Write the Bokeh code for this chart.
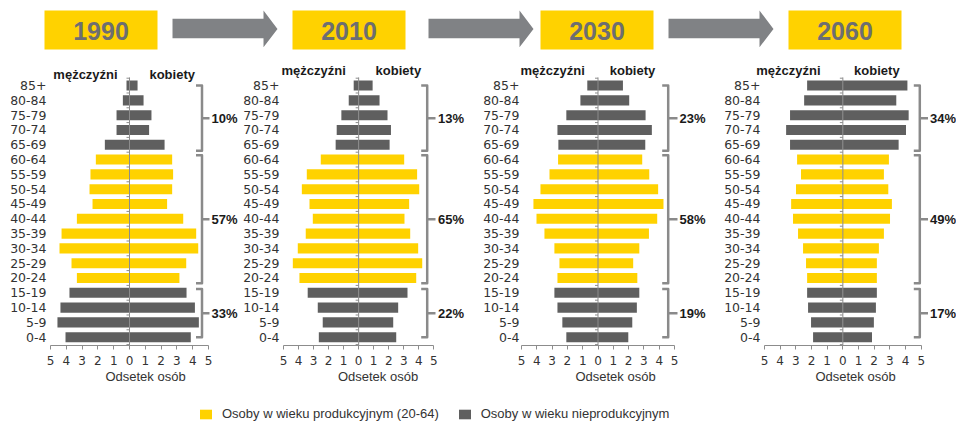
from bokeh.plotting import figure
from bokeh.models import Range1d, FixedTicker, ColumnDataSource, Legend, LegendItem, Label
from bokeh.layouts import column, row
from bokeh.embed import file_html
from bokeh.resources import INLINE
from bokeh.core.properties import value

# ---------------- data ----------------
categories = ["0-4", "5-9", "10-14", "15-19", "20-24", "25-29", "30-34", "35-39",
              "40-44", "45-49", "50-54", "55-59", "60-64", "65-69", "70-74",
              "75-79", "80-84", "85+"]
working_ages = ["20-24", "25-29", "30-34", "35-39", "40-44", "45-49", "50-54",
                "55-59", "60-64"]
years = ["1990", "2010", "2030", "2060"]

males_1990 = [4.05, 4.56, 4.37, 3.80, 3.33, 3.67, 4.43, 4.30, 3.33, 2.34, 2.53,
              2.47, 2.13, 1.56, 0.82, 0.82, 0.42, 0.19]
females_1990 = [3.88, 4.39, 4.14, 3.61, 3.16, 3.59, 4.35, 4.22, 3.40, 2.38, 2.70,
                2.76, 2.70, 2.22, 1.24, 1.39, 0.89, 0.51]
males_2010 = [2.65, 2.39, 2.72, 3.39, 3.94, 4.38, 4.05, 3.52, 3.05, 3.27, 3.78,
              3.45, 2.52, 1.53, 1.46, 1.15, 0.66, 0.33]
females_2010 = [2.50, 2.30, 2.63, 3.25, 3.83, 4.23, 3.96, 3.43, 3.05, 3.36, 4.03,
                3.89, 3.03, 2.06, 2.15, 1.92, 1.39, 0.93]
males_2030 = [2.07, 2.33, 2.65, 2.85, 2.65, 2.52, 2.85, 3.50, 4.02, 4.22, 3.76,
              3.17, 2.61, 2.59, 2.65, 2.07, 1.15, 0.70]
females_2030 = [1.98, 2.24, 2.54, 2.70, 2.57, 2.30, 2.70, 3.33, 3.87, 4.28, 3.93,
                3.35, 2.89, 3.09, 3.52, 3.11, 2.04, 1.63]
males_2060 = [1.90, 2.03, 2.22, 2.28, 2.28, 2.35, 2.54, 2.86, 3.18, 3.30, 2.99,
              2.67, 2.92, 3.37, 3.62, 3.37, 2.47, 2.28]
females_2060 = [1.86, 1.98, 2.11, 2.17, 2.17, 2.17, 2.30, 2.62, 3.01, 3.13, 2.90,
                2.62, 2.94, 3.56, 4.03, 4.20, 3.41, 4.12]

share_old = [10, 13, 23, 34]      # 65+
share_work = [57, 65, 58, 49]     # 20-64
share_young = [33, 22, 19, 17]    # 0-19

x_ticks = [-5, -4, -3, -2, -1, 0, 1, 2, 3, 4, 5]
side_labels = ["mężczyźni", "kobiety"]
axis_title = "Odsetek osób"
legend_labels = ["Osoby w wieku produkcyjnym (20-64)", "Osoby w wieku nieprodukcyjnym"]

males = [males_1990, males_2010, males_2030, males_2060]
females = [females_1990, females_2010, females_2030, females_2060]

# ---------------- style ----------------
YELLOW = "#FFD200"
GREY = "#5f5f5f"
LINE_GREY = "#8c8c8c"
BRACKET_GREY = "#8a8a8a"
TEXT = "#333333"
YEAR_GREY = "#6d6e71"
ARROW_GREY = "#808285"

Y_START, Y_END = -0.561, 18.56
bracket_spans = [(12.6, 17.0), (3.65, 12.3), (0.0, 3.25)]


def make_panel(k, fig_left, fig_right, frame_left, m5, p5, bracket_px, tick_px,
               label_px, men_dx, women_dx, hdr_y, standoff):
    scale = (p5 - m5) / 10.0
    zero = m5 + 5 * scale
    x_start = (frame_left - zero) / scale
    x_end = (fig_right - zero) / scale
    p = figure(width=fig_right - fig_left, height=332,
               x_range=Range1d(x_start, x_end), y_range=Range1d(Y_START, Y_END),
               output_backend="svg", toolbar_location=None,
               min_border_left=int(frame_left - fig_left), min_border_right=0,
               min_border_top=4, min_border_bottom=45)
    p.outline_line_color = None
    p.xgrid.visible = False
    p.ygrid.visible = False
    p.background_fill_color = "white"
    p.border_fill_color = "white"

    n = len(categories)
    ys = list(range(n))
    colors = [YELLOW if c in working_ages else GREY for c in categories]
    src = ColumnDataSource(dict(y=ys, ml=[-v for v in males[k]], mr=[0] * n,
                                fl=[0] * n, fr=females[k], color=colors))
    p.hbar(y="y", left="ml", right="mr", height=0.68, fill_color="color",
           line_color=None, source=src)
    p.hbar(y="y", left="fl", right="fr", height=0.68, fill_color="color",
           line_color=None, source=src)

    # central vertical axis with category ticks
    p.segment(x0=[0], y0=[Y_START], x1=[0], y1=[17.55], line_color=LINE_GREY,
              line_width=1)
    bnd = [i - 0.5 for i in range(n + 1)]
    p.segment(x0=[-3 / scale] * len(bnd), x1=[0] * len(bnd), y0=bnd, y1=bnd,
              line_color=LINE_GREY, line_width=1)

    # brackets
    bx = (bracket_px - zero) / scale
    hook = 6 / scale
    tx = (tick_px - zero) / scale
    xs, yss, mids = [], [], []
    for (bot, top) in bracket_spans:
        xs.append([bx - hook, bx, bx, bx - hook])
        yss.append([top, top, bot, bot])
        mid = (bot + top) / 2
        mids.append(mid)
        xs.append([bx, tx])
        yss.append([mid, mid])
    p.multi_line(xs=xs, ys=yss, line_color=BRACKET_GREY, line_width=2.5,
                 line_join="round", line_cap="butt")
    pct = [share_old[k], share_work[k], share_young[k]]
    lx = (label_px - zero) / scale
    p.text(x=[lx] * 3, y=mids, text=[f"{v}%" for v in pct],
           text_font=value("Liberation Sans"), text_font_style="bold",
           text_font_size="13px", text_baseline="middle", text_align="left",
           text_color="#1a1a1a")

    for dx, txt in zip([men_dx, women_dx], side_labels):
        p.add_layout(Label(x=dx / scale, y=hdr_y, text=txt,
                           text_font="Liberation Sans", text_font_style="bold",
                           text_font_size="13px", text_baseline="middle",
                           text_align="center", text_color="#1a1a1a"))

    xa = p.xaxis[0]
    xa.ticker = FixedTicker(ticks=x_ticks)
    xa.major_label_overrides = {t: str(abs(t)) for t in x_ticks}
    xa.bounds = (-5, 5)
    xa.axis_line_color = LINE_GREY
    xa.major_tick_line_color = LINE_GREY
    xa.minor_tick_line_color = None
    xa.major_tick_out = 4
    xa.major_tick_in = 0
    xa.major_label_standoff = 6
    xa.major_label_text_font = "DejaVu Sans"
    xa.major_label_text_font_size = "12px"
    xa.major_label_text_color = TEXT
    xa.axis_label = axis_title
    xa.axis_label_standoff = 1
    xa.axis_label_text_font = "Liberation Sans"
    xa.axis_label_text_font_size = "13px"
    xa.axis_label_text_font_style = "normal"
    xa.axis_label_text_color = TEXT

    ya = p.yaxis[0]
    ya.ticker = FixedTicker(ticks=ys)
    ya.major_label_overrides = {i: c for i, c in enumerate(categories)}
    ya.axis_line_color = None
    ya.major_tick_line_color = None
    ya.minor_tick_line_color = None
    ya.major_tick_out = 0
    ya.major_tick_in = 0
    ya.major_label_standoff = standoff
    ya.major_label_text_font = "DejaVu Sans"
    ya.major_label_text_font_size = "12.5px"
    ya.major_label_text_color = TEXT
    return p


panels = [
    make_panel(0, 0, 240, 50, 50, 208, 201.5, 209, 211, -44, 42.7, 17.75, 4),
    make_panel(1, 240, 476, 279, 283, 433.3, 426.7, 435, 437.5, -45, 39.7, 18.0, 0),
    make_panel(2, 476, 713, 517, 521, 674, 667.7, 677, 679, -45.4, 34.5, 18.0, -2),
    make_panel(3, 713, 956, 754, 764, 920.7, 919.3, 927.5, 929.5, -54.4, 34, 18.0, -6),
]

# ---------------- header ----------------
hdr = figure(width=956, height=58, x_range=Range1d(0, 956), y_range=Range1d(58, 0),
             x_axis_location=None, y_axis_location=None, output_backend="svg",
             toolbar_location=None, min_border=0)
hdr.outline_line_color = None
hdr.xgrid.visible = False
hdr.ygrid.visible = False
box_left = [44, 292, 540, 788]
box_w = 113
hdr.quad(left=box_left, right=[b + box_w for b in box_left], top=[10] * 4,
         bottom=[49] * 4, fill_color=YELLOW, line_color=None)
hdr.text(x=[b + box_w / 2 for b in box_left], y=[30] * 4, text=years,
         text_font=value("Liberation Sans"), text_font_style="bold",
         text_font_size="25px", text_align="center", text_baseline="middle",
         text_color=YEAR_GREY)
arrows = [(172, 263, 277), (428, 519, 533), (668, 759, 773)]
axs, ays = [], []
for (a0, ah, at) in arrows:
    axs.append([a0, ah, ah, at, ah, ah, a0])
    ays.append([18.3, 18.3, 10, 28.4, 46.7, 37.7, 37.7])
hdr.patches(xs=axs, ys=ays, fill_color=ARROW_GREY, line_color=None)

# ---------------- legend ----------------
leg = figure(width=956, height=32, x_range=Range1d(0, 1), y_range=Range1d(0, 1),
             x_axis_location=None, y_axis_location=None, output_backend="svg",
             toolbar_location=None, min_border=0)
leg.outline_line_color = None
leg.xgrid.visible = False
leg.ygrid.visible = False
r1 = leg.quad(left=[-3], right=[-2], top=[-2], bottom=[-3], fill_color=YELLOW,
              line_color=None)
r2 = leg.quad(left=[-3], right=[-2], top=[-2], bottom=[-3], fill_color=GREY,
              line_color=None)
legend = Legend(items=[LegendItem(label=legend_labels[0], renderers=[r1]),
                       LegendItem(label=legend_labels[1], renderers=[r2])],
                orientation="horizontal", location=(198, 1), glyph_width=15,
                glyph_height=12, label_standoff=9, spacing=18, padding=0, margin=0,
                border_line_color=None, background_fill_alpha=0,
                label_text_font="Liberation Sans", label_text_font_size="13px",
                label_text_color=TEXT, label_height=12)
leg.add_layout(legend)

layout = column(hdr, row(*panels, spacing=0), leg, spacing=0)
open("out.html", "w").write(file_html(layout, INLINE))
